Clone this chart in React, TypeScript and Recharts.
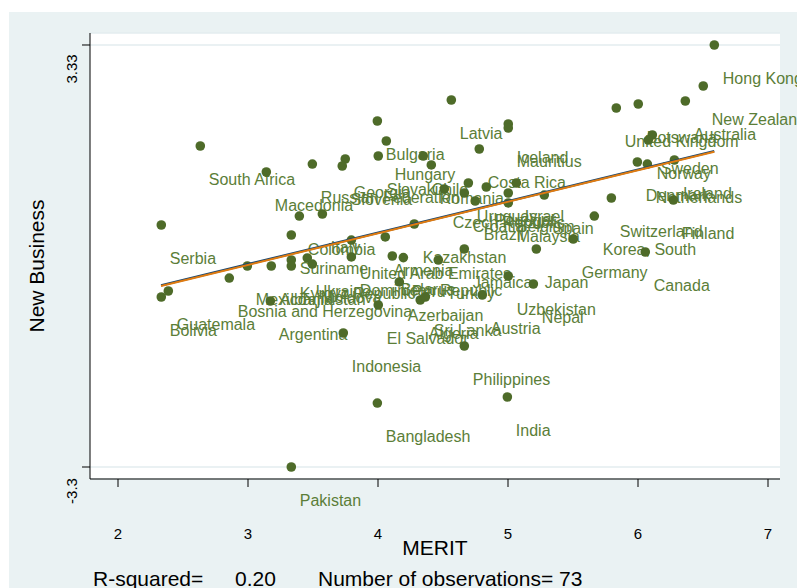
import { ScatterChart, Scatter, XAxis, YAxis, CartesianGrid, Label } from "recharts";

const countries = [
  "South Africa", "Macedonia", "Russian Federation", "Georgia", "Slovenia", "Bulgaria", "Hungary",
  "Slovakia", "Chile", "Romania", "Latvia", "Costa Rica", "Iceland", "Mauritius", "Uruguay",
  "Portugal", "Belgium", "Malaysia", "Croatia", "Brazil", "Spain", "Israel", "Switzerland",
  "Korea, South", "Kazakhstan", "Armenia", "United Arab Emirates", "Dominican Republic", "Belarus",
  "Peru", "Jamaica", "Japan", "Germany", "Turkey", "Uzbekistan", "Nepal", "Denmark", "Netherlands",
  "Ireland", "Sweden", "Norway", "United Kingdom", "Botswana", "Australia", "New Zealand",
  "Hong Kong", "Serbia", "Suriname", "Colombia", "Italy", "Mexico", "Bosnia and Herzegovina",
  "Albania", "Kyrgyz Republic", "Tajikistan", "Ukraine", "Moldova", "Bolivia", "Guatemala",
  "Argentina", "El Salvador", "Indonesia", "Azerbaijan", "Algeria", "Sri Lanka", "Austria",
  "Philippines", "Bangladesh", "India", "Pakistan", "Czech Republic", "Finland", "Canada",
];

const merit = [
  2.633, 3.141, 3.495, 3.748, 3.725, 3.995, 4.064,
  4.002, 4.348, 4.41, 4.564, 4.779, 5.002, 5.002, 4.695,
  4.833, 5.002, 5.002, 4.664, 4.748, 5.279, 5.064, 5.795,
  5.664, 4.279, 4.056, 3.795, 3.795, 4.11,
  4.195, 4.664, 5.218, 5.502, 4.464, 5.002, 5.195, 5.995, 6.072,
  6.28, 6.11, 6.079, 5.833, 6.002, 6.364, 6.502,
  6.587, 2.333, 3.333, 3.395, 3.572, 2.995, 2.856,
  3.179, 3.333, 3.333, 3.456, 3.495, 2.333, 2.387,
  3.172, 4.002, 3.733, 4.164, 4.325, 4.364, 4.802,
  4.664, 3.995, 4.995, 3.333, 4.51, 6.272, 6.056,
];

const newBusiness = [
  1.743, 1.335, 1.46, 1.539, 1.429, 2.136, 1.822,
  1.586, 1.586, 1.445, 2.466, 1.696, 2.089, 2.026, 1.162,
  1.099, 1.005, 0.848, 1.005, 0.879, 0.973, 1.162, 0.926,
  0.643, 0.518, 0.314, 0.266, 0.0, 0.015,
  -0.01, 0.125, 0.125, 0.282, -0.048, -0.299, -0.425, 1.492, 1.46,
  1.523, 1.916, 1.837, 2.34, 2.403, 2.45, 2.686,
  3.33, 0.502, 0.345, 0.643, 0.675, -0.142, -0.331,
  -0.142, -0.048, -0.142, -0.016, -0.111, -0.629, -0.535,
  -0.692, -0.755, -1.195, -0.393, -0.676, -0.629, -0.598,
  -1.399, -2.295, -2.2, -3.3, 1.068, 0.895, 0.078,
];

// fitted line at its two ends
const fitMerit = [2.331, 6.587];
const fitNewBusiness = [-0.456, 1.654];

const xTicks = [2, 3, 4, 5, 6, 7];
const yTicks = [-3.3, 3.33];

const points = countries.map((name, i) => ({ name, x: merit[i], y: newBusiness[i] }));
const fitLine = fitMerit.map((x, i) => ({ x, y: fitNewBusiness[i] }));

const FONT = "'Liberation Sans', Arial, Helvetica, sans-serif";
const DOT = "#4e6b29";
const LABEL = "#5b7e38";

function XTick({ x, y, payload }: any) {
  return (
    <text x={x} y={y + 52} textAnchor="middle" fontSize={15} fill="#000" fontFamily={FONT}>
      {payload.value}
    </text>
  );
}

function YTick({ x, y, payload }: any) {
  return (
    <text
      transform={`translate(${x - 5}, ${y + 24}) rotate(-90)`}
      textAnchor="middle"
      fontSize={15}
      fill="#000"
      fontFamily={FONT}
    >
      {payload.value}
    </text>
  );
}

const Dot = ({ cx, cy }: any) => <circle cx={cx} cy={cy} r={4.8} fill={DOT} />;

const NameTag = ({ cx, cy, payload }: any) => (
  <text x={cx + 8.5} y={cy + 39} fontSize={16} fill={LABEL} fontFamily={FONT}>
    {payload.name}
  </text>
);

const None = () => <g />;

export default function App() {
  return (
    <div style={{ position: "relative", width: 797, height: 580, background: "#fff", overflow: "hidden" }}>
      <div style={{ position: "absolute", left: 1, top: 4, width: 796, height: 576, background: "#eaf2f3" }} />
      <div style={{ position: "absolute", left: 0, top: 0 }}>
        <ScatterChart width={797} height={580} margin={{ top: 25, right: 25, bottom: 49, left: 22 }}>
          <CartesianGrid vertical={false} fill="#ffffff" stroke="#e3ecef" strokeWidth={1.5} />
          <XAxis
            type="number"
            dataKey="x"
            domain={[1.7846, 7.0923]}
            ticks={xTicks}
            interval={0}
            height={60}
            tickSize={8}
            tickMargin={0}
            stroke="#000"
            tick={<XTick />}
          >
            <Label
              content={({ viewBox }: any) => (
                <text
                  x={viewBox.x + viewBox.width / 2}
                  y={viewBox.y + 76}
                  textAnchor="middle"
                  fontSize={21}
                  fill="#000"
                  fontFamily={FONT}
                >
                  MERIT
                </text>
              )}
            />
          </XAxis>
          <YAxis
            type="number"
            dataKey="y"
            domain={[-3.4885, 3.5185]}
            ticks={yTicks}
            interval={0}
            width={60}
            tickSize={8}
            tickMargin={0}
            stroke="#000"
            tick={<YTick />}
          >
            <Label
              content={({ viewBox }: any) => (
                <text
                  transform={`translate(${viewBox.x + 14}, ${viewBox.y + viewBox.height / 2 + 10}) rotate(-90)`}
                  textAnchor="middle"
                  fontSize={21}
                  fill="#000"
                  fontFamily={FONT}
                >
                  New Business
                </text>
              )}
            />
          </YAxis>
          <Scatter data={points} shape={<NameTag />} isAnimationActive={false} />
          <Scatter data={points} shape={<Dot />} isAnimationActive={false} />
          <Scatter
            data={fitLine}
            shape={<None />}
            line={{ stroke: "#1a476f", strokeWidth: 2.4, transform: "translate(0, -0.6)" } as any}
            isAnimationActive={false}
          />
          <Scatter
            data={fitLine}
            shape={<None />}
            line={{ stroke: "#e07b10", strokeWidth: 2 }}
            isAnimationActive={false}
          />
        </ScatterChart>
      </div>
      <svg width={797} height={580} style={{ position: "absolute", left: 0, top: 0, pointerEvents: "none" }}>
        <g fontFamily={FONT} fontSize={21} fill="#000">
          <text x={85} y={578}>R-squared=</text>
          <text x={227} y={578}>0.20</text>
          <text x={310} y={578}>Number of observations= 73</text>
        </g>
      </svg>
    </div>
  );
}
